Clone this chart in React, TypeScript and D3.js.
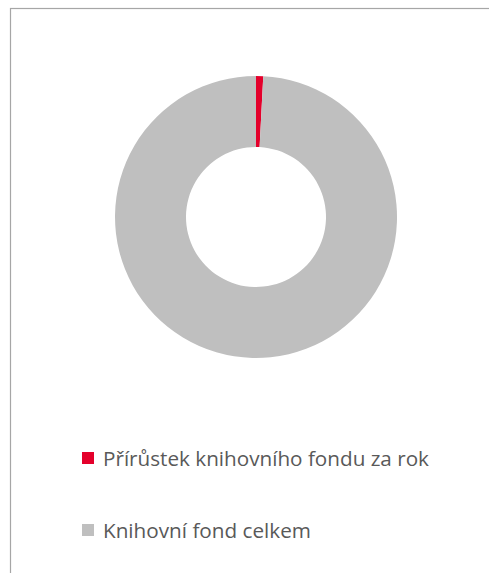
import React, { useEffect, useRef } from "react";
import * as d3 from "d3";

// data
const categories = ["Přírůstek knihovního fondu za rok", "Knihovní fond celkem"];
const values = [2400, 290000];
const colors = ["#E4002B", "#BFBFBF"];

const W = 489;
const H = 573;

const App = () => {
  const svgRef = useRef<SVGSVGElement>(null);

  useEffect(() => {
    const svg = d3.select(svgRef.current);
    svg.selectAll("*").remove();
    svg.attr("width", W).attr("height", H);

    svg
      .append("rect")
      .attr("width", W)
      .attr("height", H)
      .attr("fill", "white");

    // chart frame (clipped at right and bottom)
    svg
      .append("rect")
      .attr("x", 10.5)
      .attr("y", 8.5)
      .attr("width", W + 10)
      .attr("height", H + 10)
      .attr("fill", "none")
      .attr("stroke", "#A6A6A6")
      .attr("stroke-width", 1.2);

    const cx = 256;
    const cy = 217;
    const outer = 141;
    const inner = 70;

    const pie = d3
      .pie<number>()
      .sort(null)
      .value((d) => d);
    const arc = d3.arc<d3.PieArcDatum<number>>().innerRadius(inner).outerRadius(outer);

    const g = svg.append("g").attr("transform", `translate(${cx},${cy})`);
    g.selectAll("path")
      .data(pie(values))
      .join("path")
      .attr("d", arc)
      .attr("fill", (_, i) => colors[i]);

    // legend
    const legendY = [458, 530];
    const legend = svg
      .selectAll("g.legend")
      .data(categories)
      .join("g")
      .attr("class", "legend")
      .attr("transform", (_, i) => `translate(82,${legendY[i]})`);

    legend
      .append("rect")
      .attr("x", 0)
      .attr("y", -6)
      .attr("width", 12)
      .attr("height", 12)
      .attr("fill", (_, i) => colors[i]);

    legend
      .append("text")
      .attr("x", 21)
      .attr("y", 8)
      .attr("font-family", "'Open Sans', sans-serif")
      .attr("font-size", 20.5)
      .attr("fill", "#595959")
      .attr("textLength", (_, i) => (i === 0 ? 326 : 208))
      .attr("lengthAdjust", "spacingAndGlyphs")
      .text((d) => d);
  }, []);

  return (
    <svg
      ref={svgRef}
      style={{ position: "absolute", left: 0, top: 0, display: "block" }}
    />
  );
};

export default App;
